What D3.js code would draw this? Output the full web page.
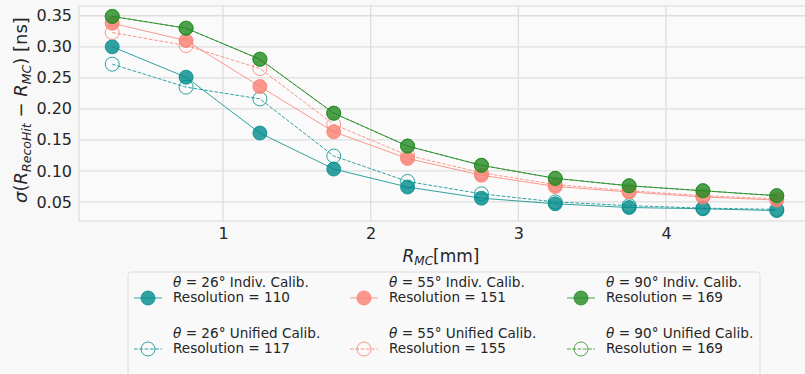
<!DOCTYPE html>
<html><head><meta charset="utf-8">
<script src="https://cdn.jsdelivr.net/npm/d3@7"></script>
<style>body{margin:0;background:#f8f8f8;}svg{display:block;font-family:"DejaVu Sans",sans-serif;}</style>
</head><body><svg id="c" width="805" height="374"></svg>
<script>
const rmc = [0.25,0.75,1.25,1.75,2.25,2.75,3.25,3.75,4.25,4.75];
const teal_indiv   = [0.300,0.251,0.161,0.103,0.074,0.056,0.047,0.041,0.039,0.036];
const teal_unified = [0.272,0.235,0.216,0.124,0.083,0.063,0.050,0.044,0.040,0.038];
const salmon_indiv   = [0.338,0.310,0.236,0.163,0.120,0.093,0.075,0.066,0.058,0.053];
const salmon_unified = [0.323,0.302,0.265,0.175,0.125,0.097,0.078,0.068,0.060,0.055];
const green_indiv   = [0.349,0.330,0.280,0.193,0.140,0.109,0.088,0.076,0.068,0.060];
const green_unified = [0.349,0.330,0.280,0.193,0.140,0.109,0.088,0.076,0.068,0.060];
const thetas = ["26","55","90"];
const resIndiv = [110,151,169];
const resUnified = [117,155,169];
const colors = ["#008b8b","#fa8072","#228b22"];
const yTicks = [0.05,0.10,0.15,0.20,0.25,0.30,0.35];
const xTicks = [1,2,3,4];

const series = [
  {v:teal_indiv, c:0, filled:true},
  {v:teal_unified, c:0, filled:false},
  {v:salmon_indiv, c:1, filled:true},
  {v:salmon_unified, c:1, filled:false},
  {v:green_indiv, c:2, filled:true},
  {v:green_unified, c:2, filled:false},
];

const svg = d3.select("#c");
const L=79, R=810, T=6, B=221;
const x = d3.scaleLinear().domain([0.025,4.975]).range([L,R]);
const y = d3.scaleLinear().domain([0.01925,0.36575]).range([B,T]);

svg.append("rect").attr("x",0).attr("y",0).attr("width",805).attr("height",374).attr("fill","#f8f8f8");
svg.append("rect").attr("x",L).attr("y",T).attr("width",R-L).attr("height",B-T)
  .attr("fill","#fafafa").attr("stroke","#e2e2e2").attr("stroke-width",1.5);

// grid
svg.append("g").selectAll("line").data(yTicks).join("line")
  .attr("x1",L).attr("x2",R).attr("y1",d=>y(d)).attr("y2",d=>y(d))
  .attr("stroke","#dedede").attr("stroke-width",1.3);
svg.append("g").selectAll("line").data(xTicks).join("line")
  .attr("y1",T).attr("y2",B).attr("x1",d=>x(d)).attr("x2",d=>x(d))
  .attr("stroke","#dedede").attr("stroke-width",1.3);

// axes
const yAxis = d3.axisLeft(y).tickValues(yTicks).tickFormat(d3.format(".2f")).tickSize(0).tickPadding(7);
const gy = svg.append("g").attr("transform",`translate(${L},0)`).call(yAxis);
gy.select(".domain").remove();
gy.selectAll("text").attr("font-size",16).attr("fill","#262626").attr("font-family","DejaVu Sans");
const xAxis = d3.axisBottom(x).tickValues(xTicks).tickFormat(d3.format("d")).tickSize(0).tickPadding(7);
const gx = svg.append("g").attr("transform",`translate(0,${B})`).call(xAxis);
gx.select(".domain").remove();
gx.selectAll("text").attr("font-size",16).attr("fill","#262626").attr("font-family","DejaVu Sans");

// axis labels
const xl = svg.append("text").attr("x",441).attr("y",262).attr("text-anchor","middle")
  .attr("font-size",17).attr("fill","#262626");
xl.append("tspan").attr("font-style","italic").text("R");
xl.append("tspan").attr("font-style","italic").attr("font-size",12).attr("dy",3).text("MC");
xl.append("tspan").attr("dy",-3).text("[mm]");

const yl = svg.append("text").attr("transform","translate(27,110) rotate(-90)").attr("text-anchor","middle")
  .attr("font-size",18).attr("fill","#262626");
yl.append("tspan").attr("font-style","italic").text("σ");
yl.append("tspan").text("(");
yl.append("tspan").attr("font-style","italic").text("R");
yl.append("tspan").attr("font-style","italic").attr("font-size",12.5).attr("dy",3.5).text("RecoHit");
yl.append("tspan").attr("dy",-3.5).text(" − ");
yl.append("tspan").attr("font-style","italic").text("R");
yl.append("tspan").attr("font-style","italic").attr("font-size",12.5).attr("dy",3.5).text("MC");
yl.append("tspan").attr("dy",-3.5).text(") [ns]");

// data
const plot = svg.append("g");
const line = d3.line().x((d,i)=>x(rmc[i])).y(d=>y(d));
series.forEach(s=>{
  const col = colors[s.c];
  const g = plot.append("g");
  g.append("path").datum(s.v).attr("d",line).attr("fill","none").attr("stroke",col)
    .attr("stroke-width",1).attr("stroke-opacity",0.8)
    .attr("stroke-dasharray", s.filled? null : "3.7,1.6");
  g.selectAll("circle").data(s.v).join("circle")
    .attr("cx",(d,i)=>x(rmc[i])).attr("cy",d=>y(d)).attr("r",7)
    .attr("fill", s.filled? col : "none").attr("fill-opacity",0.8)
    .attr("stroke",col).attr("stroke-opacity",0.8).attr("stroke-width",1);
});

// legend
const lg = svg.append("g");
lg.append("rect").attr("x",128).attr("y",272).attr("width",632).attr("height",120).attr("rx",3)
  .attr("fill","#f9f9f9").attr("stroke","#dcdcdc").attr("stroke-width",1);
const colX = [134,350,567];
const rowY = [298,349];
thetas.forEach((th,ci)=>{
  [0,1].forEach(ri=>{
    const filled = ri===0;
    const col = colors[ci];
    const x0 = colX[ci], yy = rowY[ri];
    lg.append("line").attr("x1",x0).attr("x2",x0+28).attr("y1",yy).attr("y2",yy)
      .attr("stroke",col).attr("stroke-opacity",0.8).attr("stroke-width",1)
      .attr("stroke-dasharray", filled? null : "3.7,1.6");
    lg.append("circle").attr("cx",x0+14).attr("cy",yy).attr("r",7)
      .attr("fill", filled? col : "none").attr("fill-opacity",0.8)
      .attr("stroke",col).attr("stroke-opacity",0.8);
    const t = lg.append("text").attr("x",x0+39).attr("y",yy-11).attr("font-size",13.6).attr("fill","#262626");
    t.append("tspan").attr("font-style","italic").text("θ");
    t.append("tspan").text(` = ${th}° ${filled?"Indiv.":"Unified"} Calib.`);
    lg.append("text").attr("x",x0+39).attr("y",yy+4).attr("font-size",13.6).attr("fill","#262626")
      .text(`Resolution = ${filled? resIndiv[ci] : resUnified[ci]}`);
  });
});
</script></body></html>
